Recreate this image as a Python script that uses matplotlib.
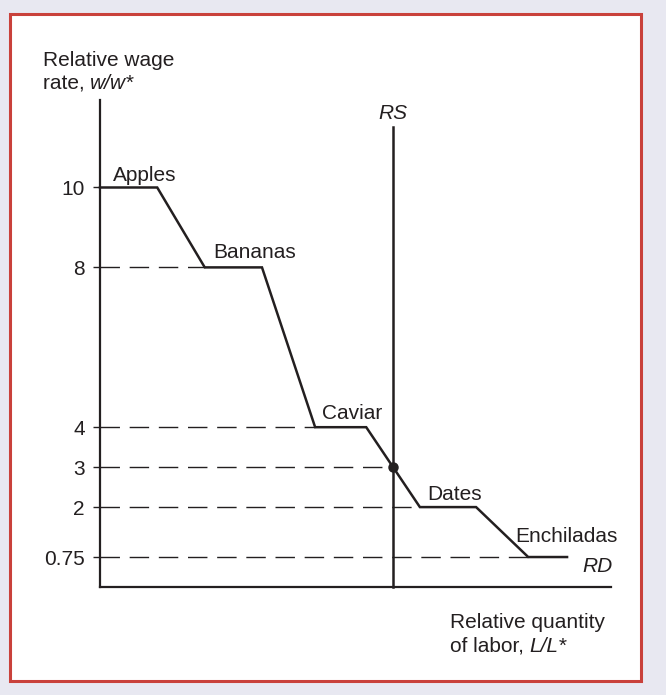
import numpy as np
import matplotlib
matplotlib.use("Agg")
import matplotlib.pyplot as plt
from matplotlib.patches import Rectangle

plt.rcParams['font.family'] = ['Liberation Sans', 'DejaVu Sans']

INK = '#231f20'

# relative labour demand (step curve) and relative supply
labor = [0, 1.12, 2.05, 3.17, 4.21, 5.21, 6.26, 7.36, 8.38, 9.14]
wage = [10, 10, 8, 8, 4, 4, 2, 2, 0.75, 0.75]
goods = ['Apples', 'Bananas', 'Caviar', 'Dates', 'Enchiladas']
rs_labor = 5.74
rs_top = 11.51
eq_wage = 3

y_ticks = [10, 8, 4, 3, 2, 0.75]
y_ticklabels = ['10', '8', '4', '3', '2', '0.75']
# where each dashed guide meets the curve
guide_ends = [2.05, 4.21, rs_labor, 6.26, 8.38]
guide_levels = [8, 4, 3, 2, 0.75]

fig = plt.figure(figsize=(6.66, 6.95), dpi=100, facecolor='#e8e8f1')
fig.patches.append(Rectangle((10 / 666, 14 / 695), 631 / 666, 667 / 695,
                             transform=fig.transFigure, facecolor='white',
                             edgecolor='#c9413b', lw=2.2, zorder=-10))

ax = fig.add_axes([100 / 666, 108 / 695, 511 / 666, 487 / 695])
ax.set_facecolor('none')
ax.set_xlim(0, 10)
ax.set_ylim(0, 12.19)

for s in ['top', 'right']:
    ax.spines[s].set_visible(False)
for s in ['left', 'bottom']:
    ax.spines[s].set_linewidth(1.6)
    ax.spines[s].set_color(INK)

ax.set_xticks([])
ax.set_yticks(y_ticks)
ax.set_yticklabels(y_ticklabels)
ax.tick_params(axis='y', length=5, width=1, color=INK, pad=6,
               labelsize=15, labelcolor=INK)

# dashed guides
ax.hlines(guide_levels, 0, guide_ends, colors=INK, lw=1, linestyles=[(0, (14, 7))])

# RD curve
ax.plot(labor, wage, color=INK, lw=1.8, solid_joinstyle='miter', clip_on=False)

# RS line and equilibrium
ax.plot([rs_labor, rs_labor], [0, rs_top], color=INK, lw=1.8, clip_on=False)
ax.plot([rs_labor], [eq_wage], 'o', color=INK, ms=6.5, zorder=5)

# good labels at the start of each flat step
offsets = [(9, 5), (6, 7), (5, 6), (5, 5), (-9, 11)]
for i, (name, off) in enumerate(zip(goods, offsets)):
    ax.annotate(name, (labor[2 * i], wage[2 * i]), xytext=off,
                textcoords='offset points', fontsize=15, color=INK,
                ha='left', va='baseline')

ax.annotate('RS', (rs_labor, rs_top), xytext=(0, 6), textcoords='offset points',
            fontsize=15, color=INK, style='italic', ha='center', va='baseline')
ax.annotate('RD', (labor[-1], wage[-1]), xytext=(11, -11), textcoords='offset points',
            fontsize=15, color=INK, style='italic', ha='left', va='baseline')


def two_part_label(x, y, plain, italic):
    t = fig.text(x, y, plain, fontsize=15, color=INK, ha='left', va='baseline')
    ax.annotate(italic, xy=(1, y), xycoords=(t, 'figure fraction'), fontsize=15,
                color=INK, style='italic', ha='left', va='baseline',
                annotation_clip=False)


# axis titles
fig.text(43 / 666, 1 - 66 / 695, 'Relative wage', fontsize=15, color=INK,
         ha='left', va='baseline')
two_part_label(43 / 666, 1 - 89 / 695, 'rate, ', 'w/w*')

fig.text(450 / 666, 1 - 628 / 695, 'Relative quantity', fontsize=15, color=INK,
         ha='left', va='baseline')
two_part_label(450 / 666, 1 - 652 / 695, 'of labor, ', 'L/L*')

fig.savefig('out.png', dpi=100, facecolor=fig.get_facecolor())
